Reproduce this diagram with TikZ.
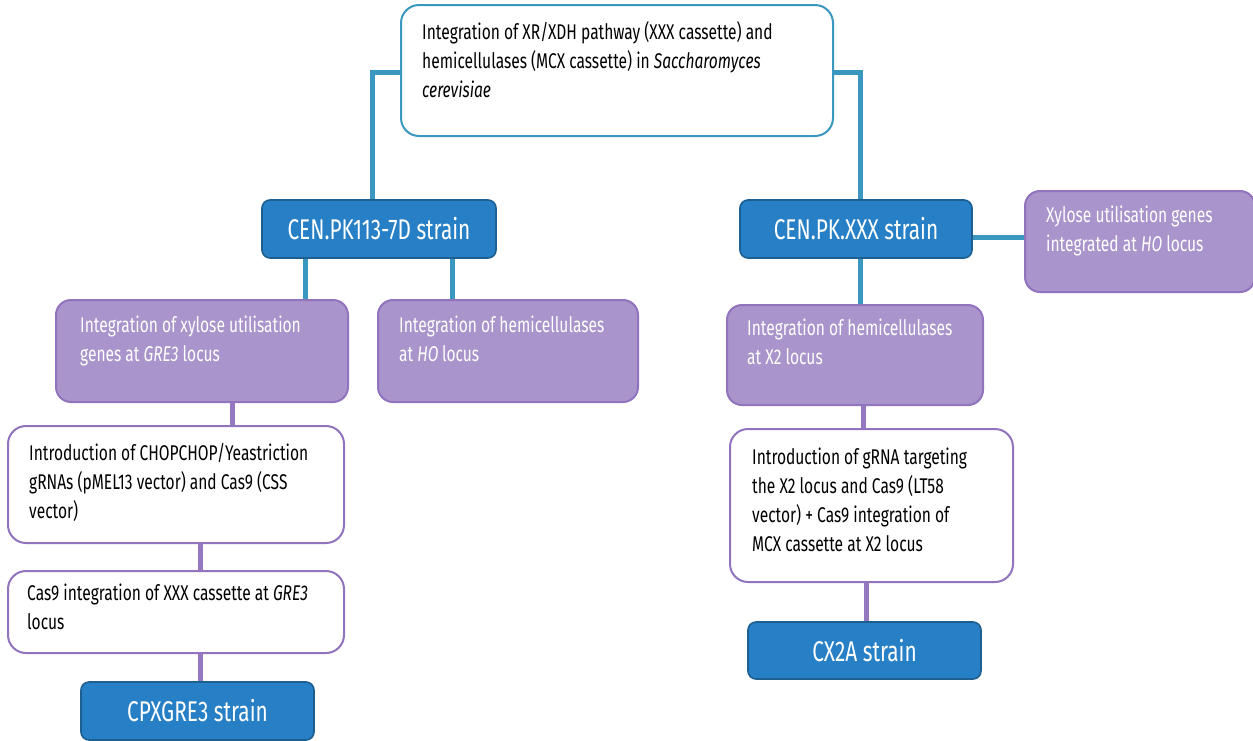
\documentclass[tikz,border=0pt]{standalone}
\usepackage{fontspec}
\setmainfont[FakeStretch=0.73]{Fira Sans}
\begin{document}
\begin{tikzpicture}[x=1pt,y=-1pt,
  tealc/.style={draw=linkteal,line width=5pt},
  purc/.style={draw=linkpur,line width=5pt},
  topbox/.style={draw=linkteal,line width=2pt,fill=white,rounded corners=18pt,inner sep=0pt},
  strainbox/.style={draw=blueborder,line width=1.6pt,fill=bluefill,rounded corners=8pt,inner sep=0pt,text=white,font=\fontsize{28.5}{32}\selectfont},
  purbox/.style={draw=purborder,line width=2pt,fill=purfill,rounded corners=15pt,inner sep=0pt},
  whitebox/.style={draw=purborder,line width=2pt,fill=white,rounded corners=18pt,inner sep=0pt},
  txt/.style={anchor=north west,inner sep=0pt,align=left,font=\fontsize{21.3}{29}\selectfont},
  wtxt/.style={txt,text=white}]
\definecolor{linkteal}{RGB}{58,151,191}
\definecolor{linkpur}{RGB}{150,120,192}
\definecolor{bluefill}{RGB}{39,128,198}
\definecolor{blueborder}{RGB}{30,95,145}
\definecolor{purfill}{RGB}{169,148,203}
\definecolor{purborder}{RGB}{145,115,190}
\useasboundingbox (0,0) rectangle (1253,740);
\fill[white] (0,0) rectangle (1253,740);
% boxes
\node[topbox,minimum width=432pt,minimum height=131pt] (top) at (617,70.5) {};
\node[strainbox,minimum width=234pt,minimum height=58pt] (s1) at (379,229) {CEN.PK113-7D strain};
\node[strainbox,minimum width=232pt,minimum height=58pt] (s2) at (856,229) {CEN.PK.XXX strain};
\node[purbox,minimum width=230pt,minimum height=101pt] (xyl) at (1140,241.5) {};
\node[purbox,minimum width=292pt,minimum height=102pt] (gre) at (202,351) {};
\node[purbox,minimum width=260pt,minimum height=102pt] (ho) at (508,351) {};
\node[purbox,minimum width=256pt,minimum height=100pt] (x2) at (855,355) {};
\node[whitebox,minimum width=336pt,minimum height=117pt] (chop) at (176,484.5) {};
\node[whitebox,minimum width=336pt,minimum height=82pt] (cas) at (176,612) {};
\node[strainbox,minimum width=233pt,minimum height=58pt] (cpx) at (197.5,711) {CPXGRE3 strain};
\node[whitebox,minimum width=283pt,minimum height=153pt] (grna) at (871.5,505.5) {};
\node[strainbox,minimum width=233pt,minimum height=57pt] (cx2a) at (864.5,650.5) {CX2A strain};
% texts
\node[txt] (ttop) at (422,21) {Integration of XR/XDH pathway (XXX cassette) and\\hemicellulases (MCX cassette) in \textit{Saccharomyces}\\\textit{cerevisiae}};
\node[wtxt] (tgre) at (80,316) {Integration of xylose utilisation\\genes at \textit{GRE3} locus};
\node[wtxt] (tho) at (399,316) {Integration of hemicellulases\\at \textit{HO}\,locus};
\node[wtxt] (txyl) at (1046,206) {Xylose utilisation genes\\integrated at \textit{HO} locus};
\node[wtxt] (tx2) at (747,319) {Integration of hemicellulases\\at X2 locus};
\node[txt] (tchop) at (29,443) {Introduction of CHOPCHOP/Yeastriction\\gRNAs (pMEL13 vector) and Cas9 (CSS\\vector)};
\node[txt] (tcas) at (27,584) {Cas9 integration of XXX cassette at \textit{GRE3}\\locus};
\node[txt] (tgrna) at (752,448) {Introduction of gRNA targeting\\the X2 locus and Cas9 (LT58\\vector) + Cas9 integration of\\MCX cassette at X2 locus};
% connectors
\draw[tealc] (top.west|-0,72) -| (s1.north -| 372,0);
\draw[tealc] (top.east|-0,72) -| (s2.north -| 860,0);
\draw[tealc] (s1.south -| 305,0) -- (gre.north -| 305,0);
\draw[tealc] (s1.south -| 452,0) -- (ho.north -| 452,0);
\draw[tealc] (s2.east |- 0,237) -- (xyl.west |- 0,237);
\draw[tealc] (s2.south -| 860,0) -- (x2.north -| 860,0);
\draw[purc] (gre.south -| 232,0) -- (chop.north -| 232,0);
\draw[purc] (chop.south -| 200,0) -- (cas.north -| 200,0);
\draw[purc] (cas.south -| 200,0) -- (cpx.north -| 200,0);
\draw[purc] (x2.south -| 863,0) -- (grna.north -| 863,0);
\draw[purc] (grna.south -| 866,0) -- (cx2a.north -| 866,0);
\end{tikzpicture}
\end{document}
